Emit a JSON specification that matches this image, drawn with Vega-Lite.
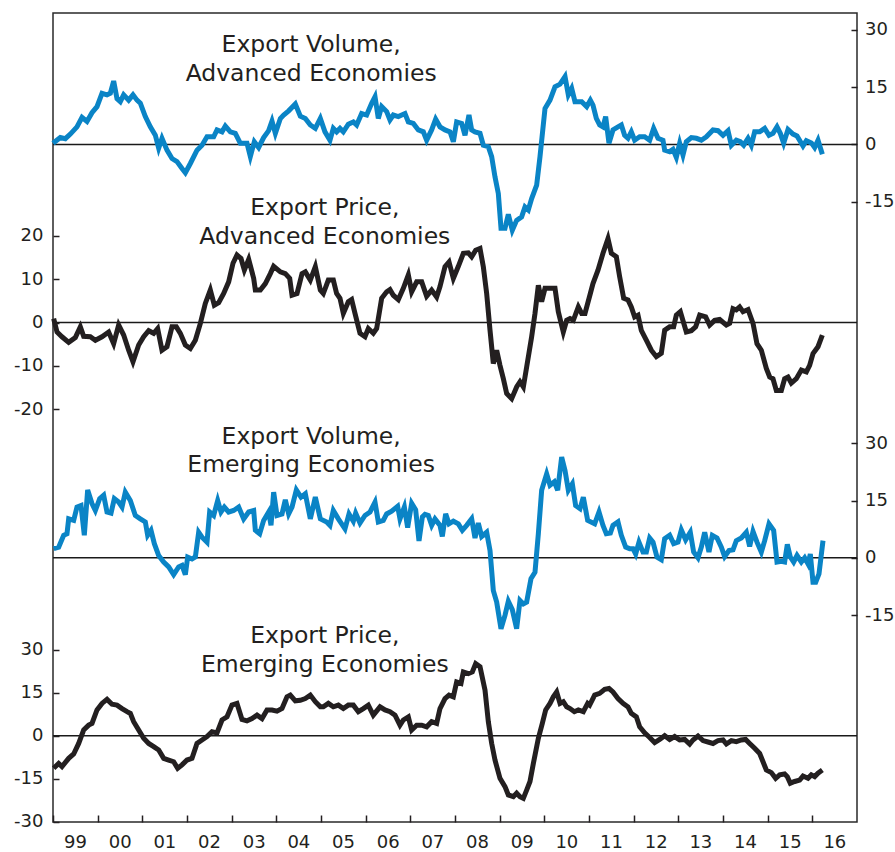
{
  "$schema": "https://vega.github.io/schema/vega-lite/v6.json",
  "width": 804,
  "height": 809,
  "autosize": {"type": "none"},
  "padding": {"left": 53, "top": 13, "right": 38, "bottom": 30},
  "background": "white",
  "config": {
    "view": {"stroke": "#2a2a2a", "strokeWidth": 1.5},
    "font": "DejaVu Sans"
  },
  "datasets": {
    "va": [
      {"t":1999.000,"v":0.3},{"t":1999.164,"v":1.8},{"t":1999.276,"v":1.5},{"t":1999.388,"v":2.7},{"t":1999.537,"v":4.6},{"t":1999.649,"v":7.1},{"t":1999.761,"v":6.0},{"t":1999.873,"v":8.3},{"t":1999.985,"v":9.9},{"t":2000.097,"v":13.4},{"t":2000.209,"v":13.0},{"t":2000.284,"v":13.4},{"t":2000.358,"v":16.6},{"t":2000.433,"v":12.0},{"t":2000.507,"v":11.2},{"t":2000.582,"v":13.0},{"t":2000.694,"v":11.6},{"t":2000.791,"v":13.0},{"t":2000.881,"v":11.6},{"t":2000.955,"v":10.8},{"t":2001.067,"v":7.3},{"t":2001.179,"v":4.6},{"t":2001.291,"v":2.4},{"t":2001.366,"v":-1.0},{"t":2001.440,"v":1.6},{"t":2001.552,"v":-1.5},{"t":2001.664,"v":-3.7},{"t":2001.776,"v":-4.5},{"t":2001.888,"v":-6.3},{"t":2001.963,"v":-7.4},{"t":2002.075,"v":-5.0},{"t":2002.224,"v":-1.5},{"t":2002.336,"v":-0.2},{"t":2002.448,"v":2.0},{"t":2002.597,"v":2.0},{"t":2002.672,"v":3.8},{"t":2002.784,"v":3.3},{"t":2002.858,"v":4.8},{"t":2002.970,"v":3.3},{"t":2003.082,"v":2.9},{"t":2003.194,"v":0.3},{"t":2003.343,"v":0.3},{"t":2003.418,"v":-3.2},{"t":2003.507,"v":0.7},{"t":2003.604,"v":-0.8},{"t":2003.716,"v":1.8},{"t":2003.828,"v":3.6},{"t":2003.903,"v":6.1},{"t":2003.978,"v":2.9},{"t":2004.090,"v":6.8},{"t":2004.164,"v":7.7},{"t":2004.276,"v":8.8},{"t":2004.425,"v":10.6},{"t":2004.537,"v":7.4},{"t":2004.649,"v":6.8},{"t":2004.761,"v":5.1},{"t":2004.873,"v":4.2},{"t":2004.985,"v":6.8},
      {"t":2005.089,"v":3.3},{"t":2005.201,"v":1.1},{"t":2005.276,"v":4.2},{"t":2005.350,"v":3.3},{"t":2005.425,"v":4.2},{"t":2005.500,"v":3.3},{"t":2005.612,"v":5.3},{"t":2005.724,"v":5.9},{"t":2005.798,"v":5.1},{"t":2005.910,"v":8.1},{"t":2006.022,"v":7.7},{"t":2006.134,"v":10.8},{"t":2006.209,"v":12.5},{"t":2006.283,"v":6.8},{"t":2006.358,"v":9.9},{"t":2006.470,"v":8.6},{"t":2006.544,"v":6.4},{"t":2006.619,"v":7.7},{"t":2006.731,"v":7.3},{"t":2006.880,"v":8.1},{"t":2006.955,"v":5.9},{"t":2007.067,"v":5.5},{"t":2007.179,"v":3.8},{"t":2007.291,"v":3.3},{"t":2007.365,"v":1.1},{"t":2007.477,"v":3.8},{"t":2007.567,"v":6.6},{"t":2007.664,"v":4.6},{"t":2007.776,"v":3.8},{"t":2007.888,"v":3.3},{"t":2007.963,"v":0.7},{"t":2008.037,"v":5.9},{"t":2008.149,"v":5.5},{"t":2008.224,"v":2.4},{"t":2008.313,"v":7.7},{"t":2008.373,"v":3.8},{"t":2008.448,"v":3.3},{"t":2008.560,"v":2.9},{"t":2008.634,"v":-0.2},{"t":2008.746,"v":-0.6},{"t":2008.821,"v":-3.2},{"t":2008.895,"v":-8.5},{"t":2008.970,"v":-12.9},{"t":2009.030,"v":-22.0},{"t":2009.119,"v":-22.0},{"t":2009.194,"v":-18.3},{"t":2009.283,"v":-22.5},{"t":2009.380,"v":-19.9},{"t":2009.492,"v":-19.0},{"t":2009.567,"v":-16.4},{"t":2009.641,"v":-17.2},{"t":2009.716,"v":-14.2},{"t":2009.828,"v":-10.7},{"t":2009.903,"v":-3.2},{"t":2010.015,"v":9.4},{"t":2010.127,"v":11.6},{"t":2010.239,"v":15.1},{"t":2010.351,"v":15.8},{"t":2010.463,"v":17.8},{"t":2010.537,"v":13.0},{"t":2010.612,"v":14.7},{"t":2010.686,"v":11.2},{"t":2010.836,"v":11.2},{"t":2010.948,"v":9.9},{"t":2011.030,"v":11.6},
      {"t":2011.089,"v":10.3},{"t":2011.164,"v":6.8},{"t":2011.239,"v":5.1},{"t":2011.313,"v":4.6},{"t":2011.373,"v":7.3},{"t":2011.447,"v":0.3},{"t":2011.537,"v":3.8},{"t":2011.649,"v":4.6},{"t":2011.724,"v":5.1},{"t":2011.798,"v":2.4},{"t":2011.873,"v":1.6},{"t":2011.947,"v":3.3},{"t":2012.022,"v":1.1},{"t":2012.134,"v":2.0},{"t":2012.246,"v":2.0},{"t":2012.358,"v":1.1},{"t":2012.447,"v":4.2},{"t":2012.545,"v":1.6},{"t":2012.656,"v":1.1},{"t":2012.694,"v":-1.5},{"t":2012.806,"v":-1.9},{"t":2012.880,"v":-1.3},{"t":2012.955,"v":-3.4},{"t":2013.030,"v":0.3},{"t":2013.104,"v":-2.8},{"t":2013.179,"v":0.7},{"t":2013.291,"v":1.8},{"t":2013.403,"v":1.6},{"t":2013.515,"v":1.1},{"t":2013.627,"v":2.0},{"t":2013.776,"v":3.8},{"t":2013.888,"v":3.6},{"t":2014.000,"v":2.4},{"t":2014.112,"v":3.6},{"t":2014.187,"v":-0.2},{"t":2014.298,"v":1.1},{"t":2014.388,"v":0.7},{"t":2014.463,"v":-0.2},{"t":2014.560,"v":1.6},{"t":2014.634,"v":-0.2},{"t":2014.709,"v":3.3},{"t":2014.821,"v":3.3},{"t":2014.933,"v":4.2},{"t":2015.030,"v":2.4},{"t":2015.119,"v":2.9},{"t":2015.209,"v":4.6},{"t":2015.283,"v":2.9},{"t":2015.358,"v":0.3},{"t":2015.455,"v":3.9},{"t":2015.567,"v":2.7},{"t":2015.657,"v":2.2},{"t":2015.791,"v":-0.4},{"t":2015.866,"v":1.0},{"t":2015.978,"v":0.4},{"t":2016.052,"v":-0.8},{"t":2016.127,"v":1.1},{"t":2016.224,"v":-2.6}
    ],
    "pa": [
      {"t":1999.015,"v":0.9},{"t":1999.090,"v":-2.2},{"t":1999.201,"v":-3.3},{"t":1999.351,"v":-4.6},{"t":1999.500,"v":-3.5},{"t":1999.612,"v":-1.0},{"t":1999.687,"v":-3.2},{"t":1999.836,"v":-3.3},{"t":1999.948,"v":-4.1},{"t":2000.097,"v":-3.3},{"t":2000.246,"v":-2.2},{"t":2000.358,"v":-4.9},{"t":2000.470,"v":-0.6},{"t":2000.582,"v":-2.9},{"t":2000.694,"v":-6.4},{"t":2000.791,"v":-9.1},{"t":2000.918,"v":-5.2},{"t":2001.030,"v":-3.3},{"t":2001.142,"v":-1.9},{"t":2001.254,"v":-2.5},{"t":2001.343,"v":-1.4},{"t":2001.440,"v":-6.4},{"t":2001.552,"v":-5.6},{"t":2001.664,"v":-1.0},{"t":2001.761,"v":-1.0},{"t":2001.851,"v":-2.5},{"t":2001.963,"v":-5.2},{"t":2002.075,"v":-6.0},{"t":2002.187,"v":-4.1},{"t":2002.299,"v":-0.2},{"t":2002.410,"v":4.4},{"t":2002.522,"v":7.5},{"t":2002.612,"v":4.0},{"t":2002.709,"v":4.6},{"t":2002.821,"v":6.7},{"t":2002.933,"v":9.4},{"t":2003.030,"v":13.7},{"t":2003.119,"v":15.6},{"t":2003.209,"v":14.8},{"t":2003.284,"v":12.1},{"t":2003.381,"v":14.6},{"t":2003.493,"v":10.2},{"t":2003.530,"v":7.5},{"t":2003.642,"v":7.5},{"t":2003.754,"v":9.0},{"t":2003.866,"v":11.3},{"t":2003.940,"v":13.0},{"t":2004.090,"v":11.7},{"t":2004.201,"v":11.3},{"t":2004.299,"v":10.2},{"t":2004.351,"v":6.3},{"t":2004.463,"v":6.7},{"t":2004.575,"v":11.3},{"t":2004.649,"v":11.7},{"t":2004.761,"v":9.8},{"t":2004.873,"v":12.9},{"t":2004.985,"v":7.5},
      {"t":2005.052,"v":6.7},{"t":2005.164,"v":9.8},{"t":2005.276,"v":9.8},{"t":2005.350,"v":6.7},{"t":2005.425,"v":5.6},{"t":2005.500,"v":2.1},{"t":2005.612,"v":4.8},{"t":2005.686,"v":5.3},{"t":2005.761,"v":2.1},{"t":2005.873,"v":-2.5},{"t":2005.985,"v":-3.3},{"t":2006.059,"v":-1.4},{"t":2006.171,"v":-2.5},{"t":2006.246,"v":-1.4},{"t":2006.358,"v":5.6},{"t":2006.470,"v":7.1},{"t":2006.544,"v":7.6},{"t":2006.619,"v":6.3},{"t":2006.731,"v":5.3},{"t":2006.843,"v":7.9},{"t":2006.955,"v":11.0},{"t":2007.030,"v":7.1},{"t":2007.142,"v":9.4},{"t":2007.254,"v":9.4},{"t":2007.365,"v":6.1},{"t":2007.477,"v":7.5},{"t":2007.589,"v":5.9},{"t":2007.664,"v":8.3},{"t":2007.776,"v":12.9},{"t":2007.866,"v":14.0},{"t":2007.963,"v":10.2},{"t":2008.075,"v":13.0},{"t":2008.187,"v":16.0},{"t":2008.298,"v":16.1},{"t":2008.373,"v":15.2},{"t":2008.463,"v":16.7},{"t":2008.560,"v":17.1},{"t":2008.634,"v":12.9},{"t":2008.709,"v":6.7},{"t":2008.784,"v":-1.8},{"t":2008.858,"v":-9.5},{"t":2008.933,"v":-6.4},{"t":2009.007,"v":-9.9},{"t":2009.082,"v":-13.0},{"t":2009.157,"v":-16.4},{"t":2009.269,"v":-17.6},{"t":2009.380,"v":-14.9},{"t":2009.455,"v":-13.7},{"t":2009.530,"v":-14.9},{"t":2009.604,"v":-10.3},{"t":2009.716,"v":-3.3},{"t":2009.791,"v":2.1},{"t":2009.866,"v":8.6},{"t":2009.940,"v":4.8},{"t":2010.015,"v":7.9},{"t":2010.127,"v":7.9},{"t":2010.239,"v":7.9},{"t":2010.313,"v":2.5},{"t":2010.425,"v":-2.2},{"t":2010.500,"v":0.5},{"t":2010.575,"v":0.9},{"t":2010.649,"v":0.5},{"t":2010.761,"v":3.6},{"t":2010.836,"v":2.1},{"t":2010.910,"v":2.1},{"t":2011.030,"v":6.7},
      {"t":2011.089,"v":9.0},{"t":2011.201,"v":12.1},{"t":2011.313,"v":16.0},{"t":2011.425,"v":19.4},{"t":2011.500,"v":16.0},{"t":2011.612,"v":15.2},{"t":2011.686,"v":10.6},{"t":2011.776,"v":5.6},{"t":2011.873,"v":5.2},{"t":2011.947,"v":3.6},{"t":2012.022,"v":1.3},{"t":2012.097,"v":1.7},{"t":2012.171,"v":-1.8},{"t":2012.283,"v":-4.1},{"t":2012.395,"v":-6.4},{"t":2012.507,"v":-7.9},{"t":2012.619,"v":-7.1},{"t":2012.694,"v":-1.8},{"t":2012.806,"v":-1.0},{"t":2012.895,"v":-1.0},{"t":2012.955,"v":1.7},{"t":2013.045,"v":2.5},{"t":2013.179,"v":-2.2},{"t":2013.291,"v":-1.9},{"t":2013.388,"v":-1.0},{"t":2013.478,"v":1.7},{"t":2013.612,"v":1.3},{"t":2013.701,"v":-0.6},{"t":2013.813,"v":0.5},{"t":2013.925,"v":0.7},{"t":2014.075,"v":-0.6},{"t":2014.149,"v":-0.2},{"t":2014.224,"v":3.2},{"t":2014.298,"v":2.9},{"t":2014.373,"v":3.6},{"t":2014.448,"v":2.5},{"t":2014.560,"v":3.0},{"t":2014.672,"v":-0.2},{"t":2014.761,"v":-4.9},{"t":2014.858,"v":-6.4},{"t":2014.970,"v":-10.6},{"t":2015.045,"v":-12.6},{"t":2015.119,"v":-13.0},{"t":2015.194,"v":-15.7},{"t":2015.306,"v":-15.7},{"t":2015.380,"v":-13.0},{"t":2015.455,"v":-12.6},{"t":2015.530,"v":-14.0},{"t":2015.642,"v":-13.0},{"t":2015.754,"v":-11.0},{"t":2015.866,"v":-11.4},{"t":2015.940,"v":-9.9},{"t":2016.015,"v":-7.2},{"t":2016.127,"v":-5.6},{"t":2016.224,"v":-2.9}
    ],
    "ve": [
      {"t":1999.015,"v":2.4},{"t":1999.127,"v":2.8},{"t":1999.239,"v":5.9},{"t":1999.313,"v":6.3},{"t":1999.351,"v":10.2},{"t":1999.463,"v":9.8},{"t":1999.537,"v":13.3},{"t":1999.627,"v":13.7},{"t":1999.701,"v":5.9},{"t":1999.776,"v":17.8},{"t":1999.873,"v":14.2},{"t":1999.948,"v":12.4},{"t":2000.045,"v":15.5},{"t":2000.134,"v":16.4},{"t":2000.209,"v":12.0},{"t":2000.299,"v":11.7},{"t":2000.373,"v":15.5},{"t":2000.470,"v":14.6},{"t":2000.545,"v":13.3},{"t":2000.619,"v":17.2},{"t":2000.731,"v":15.0},{"t":2000.843,"v":11.1},{"t":2000.955,"v":10.2},{"t":2001.067,"v":9.4},{"t":2001.119,"v":5.9},{"t":2001.194,"v":7.2},{"t":2001.269,"v":3.7},{"t":2001.366,"v":0.6},{"t":2001.478,"v":-1.1},{"t":2001.590,"v":-2.4},{"t":2001.701,"v":-4.4},{"t":2001.813,"v":-2.4},{"t":2001.888,"v":-2.0},{"t":2001.963,"v":-4.4},{"t":2002.015,"v":0.2},{"t":2002.112,"v":-0.3},{"t":2002.187,"v":0.2},{"t":2002.261,"v":6.7},{"t":2002.336,"v":5.4},{"t":2002.448,"v":4.1},{"t":2002.507,"v":12.0},{"t":2002.597,"v":11.1},{"t":2002.687,"v":15.0},{"t":2002.761,"v":12.0},{"t":2002.836,"v":13.3},{"t":2002.933,"v":12.0},{"t":2003.045,"v":12.4},{"t":2003.157,"v":13.3},{"t":2003.269,"v":10.2},{"t":2003.381,"v":12.0},{"t":2003.493,"v":12.4},{"t":2003.530,"v":7.2},{"t":2003.627,"v":6.3},{"t":2003.716,"v":9.8},{"t":2003.828,"v":12.0},{"t":2003.881,"v":8.5},{"t":2003.940,"v":17.2},{"t":2004.015,"v":11.1},{"t":2004.127,"v":11.5},{"t":2004.201,"v":15.2},{"t":2004.276,"v":11.5},{"t":2004.351,"v":13.3},{"t":2004.448,"v":17.8},{"t":2004.552,"v":15.9},{"t":2004.649,"v":16.8},{"t":2004.761,"v":10.2},{"t":2004.873,"v":15.9},{"t":2004.985,"v":10.2},
      {"t":2005.127,"v":9.4},{"t":2005.201,"v":8.5},{"t":2005.276,"v":12.4},{"t":2005.388,"v":10.2},{"t":2005.537,"v":7.6},{"t":2005.627,"v":11.5},{"t":2005.724,"v":9.6},{"t":2005.776,"v":11.7},{"t":2005.873,"v":9.1},{"t":2005.985,"v":11.1},{"t":2006.097,"v":12.0},{"t":2006.209,"v":14.6},{"t":2006.283,"v":9.4},{"t":2006.395,"v":9.8},{"t":2006.470,"v":11.5},{"t":2006.582,"v":12.2},{"t":2006.716,"v":13.5},{"t":2006.768,"v":10.2},{"t":2006.866,"v":13.3},{"t":2006.940,"v":7.9},{"t":2007.030,"v":14.3},{"t":2007.119,"v":12.6},{"t":2007.194,"v":4.4},{"t":2007.269,"v":10.7},{"t":2007.328,"v":11.4},{"t":2007.403,"v":11.1},{"t":2007.478,"v":8.5},{"t":2007.552,"v":10.2},{"t":2007.664,"v":8.5},{"t":2007.716,"v":5.6},{"t":2007.791,"v":11.5},{"t":2007.866,"v":8.9},{"t":2007.963,"v":9.6},{"t":2008.075,"v":8.9},{"t":2008.164,"v":7.2},{"t":2008.261,"v":8.5},{"t":2008.373,"v":10.2},{"t":2008.448,"v":5.2},{"t":2008.522,"v":9.1},{"t":2008.597,"v":5.6},{"t":2008.709,"v":6.7},{"t":2008.784,"v":1.9},{"t":2008.858,"v":-8.6},{"t":2008.933,"v":-11.6},{"t":2009.030,"v":-18.6},{"t":2009.119,"v":-15.1},{"t":2009.194,"v":-11.4},{"t":2009.283,"v":-13.6},{"t":2009.380,"v":-18.6},{"t":2009.455,"v":-11.2},{"t":2009.530,"v":-12.1},{"t":2009.604,"v":-11.6},{"t":2009.701,"v":-5.5},{"t":2009.791,"v":-3.8},{"t":2009.866,"v":6.3},{"t":2009.940,"v":17.7},{"t":2010.052,"v":22.0},{"t":2010.127,"v":19.0},{"t":2010.224,"v":19.9},{"t":2010.299,"v":17.7},{"t":2010.388,"v":26.4},{"t":2010.463,"v":22.9},{"t":2010.537,"v":17.7},{"t":2010.627,"v":19.4},{"t":2010.701,"v":13.7},{"t":2010.799,"v":12.9},{"t":2010.873,"v":15.9},{"t":2010.970,"v":9.8},
      {"t":2011.127,"v":8.9},{"t":2011.224,"v":12.0},{"t":2011.313,"v":8.5},{"t":2011.388,"v":6.3},{"t":2011.478,"v":6.5},{"t":2011.537,"v":8.5},{"t":2011.649,"v":9.4},{"t":2011.724,"v":5.9},{"t":2011.821,"v":2.8},{"t":2011.910,"v":2.4},{"t":2011.985,"v":2.4},{"t":2012.045,"v":1.0},{"t":2012.119,"v":4.1},{"t":2012.209,"v":1.5},{"t":2012.284,"v":1.5},{"t":2012.358,"v":5.2},{"t":2012.433,"v":4.1},{"t":2012.522,"v":0.2},{"t":2012.619,"v":-0.5},{"t":2012.694,"v":5.0},{"t":2012.806,"v":5.9},{"t":2012.895,"v":3.7},{"t":2012.993,"v":4.1},{"t":2013.067,"v":7.3},{"t":2013.164,"v":4.7},{"t":2013.268,"v":6.7},{"t":2013.343,"v":1.5},{"t":2013.440,"v":0.0},{"t":2013.515,"v":2.8},{"t":2013.590,"v":6.7},{"t":2013.686,"v":1.5},{"t":2013.761,"v":5.9},{"t":2013.866,"v":5.2},{"t":2013.963,"v":2.8},{"t":2014.037,"v":0.3},{"t":2014.134,"v":1.9},{"t":2014.224,"v":2.1},{"t":2014.298,"v":4.5},{"t":2014.410,"v":5.2},{"t":2014.522,"v":6.7},{"t":2014.597,"v":3.0},{"t":2014.672,"v":6.9},{"t":2014.761,"v":4.1},{"t":2014.858,"v":1.5},{"t":2014.933,"v":4.5},{"t":2015.030,"v":8.9},{"t":2015.134,"v":7.2},{"t":2015.209,"v":-1.1},{"t":2015.306,"v":-0.9},{"t":2015.380,"v":-1.1},{"t":2015.440,"v":3.5},{"t":2015.507,"v":0.2},{"t":2015.582,"v":-1.1},{"t":2015.657,"v":0.6},{"t":2015.754,"v":-1.1},{"t":2015.828,"v":0.0},{"t":2015.903,"v":-1.6},{"t":2015.955,"v":1.0},{"t":2016.015,"v":-6.4},{"t":2016.075,"v":-6.4},{"t":2016.149,"v":-4.2},{"t":2016.239,"v":4.5}
    ],
    "pe": [
      {"t":1999.015,"v":-11.4},{"t":1999.127,"v":-9.7},{"t":1999.201,"v":-10.8},{"t":1999.351,"v":-7.9},{"t":1999.463,"v":-6.4},{"t":1999.575,"v":-2.7},{"t":1999.687,"v":2.0},{"t":1999.799,"v":3.7},{"t":1999.873,"v":4.3},{"t":1999.985,"v":9.0},{"t":2000.097,"v":11.3},{"t":2000.209,"v":12.7},{"t":2000.321,"v":11.0},{"t":2000.433,"v":10.7},{"t":2000.545,"v":9.5},{"t":2000.657,"v":8.4},{"t":2000.731,"v":7.8},{"t":2000.806,"v":4.9},{"t":2000.918,"v":2.0},{"t":2001.030,"v":-0.9},{"t":2001.142,"v":-2.7},{"t":2001.254,"v":-3.8},{"t":2001.366,"v":-5.0},{"t":2001.478,"v":-7.9},{"t":2001.590,"v":-8.5},{"t":2001.701,"v":-9.1},{"t":2001.791,"v":-11.4},{"t":2001.888,"v":-10.2},{"t":2002.000,"v":-8.5},{"t":2002.112,"v":-7.9},{"t":2002.224,"v":-2.7},{"t":2002.336,"v":-1.5},{"t":2002.448,"v":-0.3},{"t":2002.560,"v":1.4},{"t":2002.672,"v":1.0},{"t":2002.784,"v":5.5},{"t":2002.896,"v":6.6},{"t":2003.007,"v":10.7},{"t":2003.119,"v":11.3},{"t":2003.231,"v":5.7},{"t":2003.343,"v":5.2},{"t":2003.455,"v":6.0},{"t":2003.567,"v":7.2},{"t":2003.679,"v":6.0},{"t":2003.791,"v":9.0},{"t":2003.903,"v":9.0},{"t":2004.015,"v":8.6},{"t":2004.127,"v":9.5},{"t":2004.239,"v":13.6},{"t":2004.313,"v":14.2},{"t":2004.425,"v":12.2},{"t":2004.537,"v":12.4},{"t":2004.649,"v":13.0},{"t":2004.761,"v":14.2},{"t":2004.873,"v":11.9},{"t":2004.985,"v":10.1},
      {"t":2005.052,"v":10.1},{"t":2005.164,"v":11.3},{"t":2005.276,"v":10.1},{"t":2005.388,"v":10.7},{"t":2005.500,"v":9.5},{"t":2005.612,"v":10.7},{"t":2005.724,"v":10.7},{"t":2005.836,"v":8.4},{"t":2005.948,"v":9.5},{"t":2006.059,"v":10.7},{"t":2006.171,"v":7.2},{"t":2006.321,"v":10.1},{"t":2006.433,"v":9.0},{"t":2006.545,"v":8.4},{"t":2006.657,"v":7.2},{"t":2006.768,"v":3.7},{"t":2006.843,"v":5.5},{"t":2006.955,"v":6.6},{"t":2007.030,"v":2.0},{"t":2007.142,"v":3.7},{"t":2007.254,"v":3.7},{"t":2007.365,"v":3.1},{"t":2007.477,"v":4.9},{"t":2007.589,"v":4.3},{"t":2007.664,"v":9.5},{"t":2007.776,"v":13.0},{"t":2007.866,"v":14.2},{"t":2007.963,"v":13.6},{"t":2008.037,"v":18.8},{"t":2008.134,"v":18.3},{"t":2008.187,"v":22.3},{"t":2008.298,"v":21.7},{"t":2008.388,"v":22.3},{"t":2008.463,"v":25.2},{"t":2008.560,"v":24.1},{"t":2008.672,"v":15.9},{"t":2008.746,"v":4.9},{"t":2008.821,"v":-2.7},{"t":2008.895,"v":-8.5},{"t":2009.007,"v":-14.9},{"t":2009.119,"v":-17.8},{"t":2009.194,"v":-20.7},{"t":2009.306,"v":-21.3},{"t":2009.380,"v":-20.1},{"t":2009.455,"v":-21.3},{"t":2009.530,"v":-21.9},{"t":2009.604,"v":-19.0},{"t":2009.679,"v":-16.0},{"t":2009.754,"v":-9.7},{"t":2009.866,"v":-0.9},{"t":2009.955,"v":4.3},{"t":2010.030,"v":9.0},{"t":2010.127,"v":11.3},{"t":2010.201,"v":13.6},{"t":2010.276,"v":15.3},{"t":2010.351,"v":11.3},{"t":2010.425,"v":11.9},{"t":2010.500,"v":10.1},{"t":2010.575,"v":9.5},{"t":2010.672,"v":8.4},{"t":2010.761,"v":9.0},{"t":2010.873,"v":8.4},{"t":2010.970,"v":11.3},
      {"t":2011.015,"v":10.7},{"t":2011.127,"v":14.2},{"t":2011.239,"v":14.8},{"t":2011.351,"v":16.2},{"t":2011.448,"v":16.5},{"t":2011.537,"v":15.3},{"t":2011.649,"v":13.0},{"t":2011.761,"v":11.3},{"t":2011.873,"v":10.1},{"t":2011.947,"v":7.8},{"t":2012.060,"v":6.6},{"t":2012.134,"v":3.1},{"t":2012.246,"v":1.0},{"t":2012.358,"v":-0.6},{"t":2012.470,"v":-2.4},{"t":2012.582,"v":-1.3},{"t":2012.694,"v":0.0},{"t":2012.806,"v":-1.3},{"t":2012.918,"v":-0.3},{"t":2013.030,"v":-1.5},{"t":2013.142,"v":-1.3},{"t":2013.254,"v":-2.9},{"t":2013.328,"v":-1.5},{"t":2013.440,"v":-0.1},{"t":2013.552,"v":-1.7},{"t":2013.664,"v":-2.2},{"t":2013.776,"v":-2.7},{"t":2013.888,"v":-1.7},{"t":2014.000,"v":-1.5},{"t":2014.075,"v":-2.9},{"t":2014.187,"v":-1.7},{"t":2014.298,"v":-2.1},{"t":2014.410,"v":-1.5},{"t":2014.507,"v":-1.3},{"t":2014.597,"v":-2.7},{"t":2014.709,"v":-4.4},{"t":2014.821,"v":-6.2},{"t":2014.896,"v":-9.1},{"t":2014.970,"v":-12.0},{"t":2015.082,"v":-12.9},{"t":2015.179,"v":-14.9},{"t":2015.269,"v":-13.7},{"t":2015.380,"v":-13.4},{"t":2015.440,"v":-14.3},{"t":2015.507,"v":-16.6},{"t":2015.604,"v":-16.0},{"t":2015.716,"v":-15.5},{"t":2015.791,"v":-14.1},{"t":2015.903,"v":-14.9},{"t":2015.978,"v":-13.7},{"t":2016.052,"v":-14.3},{"t":2016.127,"v":-13.1},{"t":2016.224,"v":-12.0}
    ],
    "zero": [{"t":1999,"v":0},{"t":2017,"v":0}]
  },
  "encoding": {
    "x": {
      "field": "t", "type": "quantitative",
      "scale": {"domain": [1999, 2017], "nice": false, "zero": false},
      "axis": {
        "title": null, "grid": false, "domain": false,
        "values": [1999,2000,2001,2002,2003,2004,2005,2006,2007,2008,2009,2010,2011,2012,2013,2014,2015,2016],
        "labelExpr": "format(datum.value % 100, '02d')",
        "labelOffset": 22, "labelAlign": "center", "labelBaseline": "alphabetic",
        "tickSize": -7, "tickColor": "#231f20", "tickWidth": 1.5,
        "labelPadding": 32.5, "labelFontSize": 18, "labelColor": "#231f20", "labelFont": "DejaVu Sans"
      }
    }
  },
  "layer": [
    {
      "encoding": {
        "y": {"field": "v", "type": "quantitative",
          "scale": {"domain": [-177.59, 34.44], "nice": false, "zero": false},
          "axis": {"orient": "right", "title": null, "grid": false, "domain": false,
            "values": [30, 15, 0, -15], "labelExpr": "'' + datum.value",
            "tickSize": -6, "tickColor": "#231f20", "tickWidth": 1.5,
            "labelPadding": 13.5, "labelFontSize": 18, "labelColor": "#231f20", "labelFont": "DejaVu Sans"}}
      },
      "layer": [
        {"data": {"name": "zero"}, "mark": {"type": "line", "color": "#1a1a1a", "strokeWidth": 1.5}},
        {"data": {"name": "va"}, "mark": {"type": "line", "color": "#0a84c6", "strokeWidth": 5}},
        {"data": {"values": [{"t": 2004.78, "v": 26.05, "label": "Export Volume,\nAdvanced Economies"}]},
         "mark": {"type": "text", "fontSize": 23.5, "color": "#231f20", "align": "center", "baseline": "middle", "lineBreak": "\n", "lineHeight": 28.5, "font": "DejaVu Sans"},
         "encoding": {"text": {"field": "label"}}}
      ]
    },
    {
      "encoding": {
        "y": {"field": "v", "type": "quantitative",
          "scale": {"domain": [-115.49, 71.56], "nice": false, "zero": false},
          "axis": {"orient": "left", "title": null, "grid": false, "domain": false,
            "values": [20, 10, 0, -10, -20], "labelExpr": "'' + datum.value",
            "tickSize": -6, "tickColor": "#231f20", "tickWidth": 1.5,
            "labelPadding": 16, "labelFontSize": 18, "labelColor": "#231f20", "labelFont": "DejaVu Sans"}}
      },
      "layer": [
        {"data": {"name": "zero"}, "mark": {"type": "line", "color": "#1a1a1a", "strokeWidth": 1.5}},
        {"data": {"name": "pa"}, "mark": {"type": "line", "color": "#231f20", "strokeWidth": 5}},
        {"data": {"values": [{"t": 2005.085, "v": 26.47, "label": "Export Price,\nAdvanced Economies"}]},
         "mark": {"type": "text", "fontSize": 23.5, "color": "#231f20", "align": "center", "baseline": "middle", "lineBreak": "\n", "lineHeight": 28.5, "font": "DejaVu Sans"},
         "encoding": {"text": {"field": "label"}}}
      ]
    },
    {
      "encoding": {
        "y": {"field": "v", "type": "quantitative",
          "scale": {"domain": [-69.24, 142.78], "nice": false, "zero": false},
          "axis": {"orient": "right", "title": null, "grid": false, "domain": false,
            "values": [30, 15, 0, -15], "labelExpr": "'' + datum.value",
            "tickSize": -6, "tickColor": "#231f20", "tickWidth": 1.5,
            "labelPadding": 13.5, "labelFontSize": 18, "labelColor": "#231f20", "labelFont": "DejaVu Sans"}}
      },
      "layer": [
        {"data": {"name": "zero"}, "mark": {"type": "line", "color": "#1a1a1a", "strokeWidth": 1.5}},
        {"data": {"name": "ve"}, "mark": {"type": "line", "color": "#0a84c6", "strokeWidth": 5}},
        {"data": {"values": [{"t": 2004.78, "v": 31.66, "label": "Export Volume,\nEmerging Economies"}]},
         "mark": {"type": "text", "fontSize": 23.5, "color": "#231f20", "align": "center", "baseline": "middle", "lineBreak": "\n", "lineHeight": 28.5, "font": "DejaVu Sans"},
         "encoding": {"text": {"field": "label"}}}
      ]
    },
    {
      "encoding": {
        "y": {"field": "v", "type": "quantitative",
          "scale": {"domain": [-30.17, 252.7], "nice": false, "zero": false},
          "axis": {"orient": "left", "title": null, "grid": false, "domain": false,
            "values": [30, 15, 0, -15, -30], "labelExpr": "'' + datum.value",
            "tickSize": -6, "tickColor": "#231f20", "tickWidth": 1.5,
            "labelPadding": 16, "labelFontSize": 18, "labelColor": "#231f20", "labelFont": "DejaVu Sans"}}
      },
      "layer": [
        {"data": {"name": "zero"}, "mark": {"type": "line", "color": "#1a1a1a", "strokeWidth": 1.5}},
        {"data": {"name": "pe"}, "mark": {"type": "line", "color": "#231f20", "strokeWidth": 5}},
        {"data": {"values": [{"t": 2005.085, "v": 34.86, "label": "Export Price,\nEmerging Economies"}]},
         "mark": {"type": "text", "fontSize": 23.5, "color": "#231f20", "align": "center", "baseline": "middle", "lineBreak": "\n", "lineHeight": 28.5, "font": "DejaVu Sans"},
         "encoding": {"text": {"field": "label"}}}
      ]
    }
  ],
  "resolve": {"scale": {"y": "independent"}, "axis": {"y": "independent"}}
}
